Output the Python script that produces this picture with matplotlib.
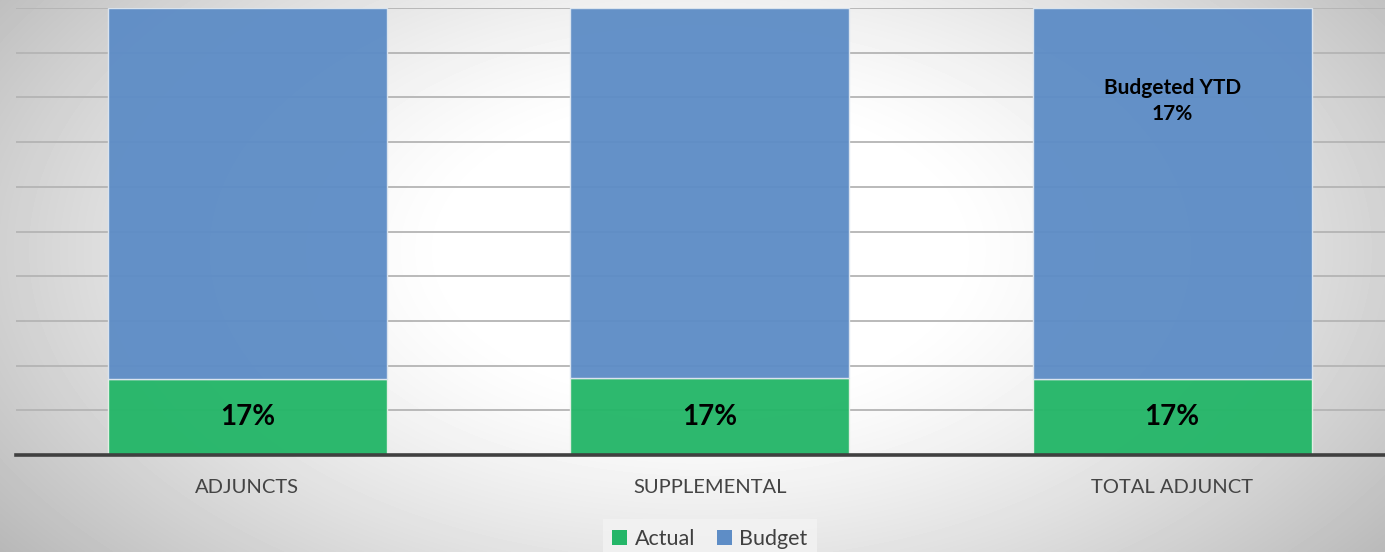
import numpy as np
import matplotlib.pyplot as plt
from matplotlib.patches import Patch

# chart data
categories = ['ADJUNCTS', 'SUPPLEMENTAL', 'TOTAL ADJUNCT']
actual = [0.17, 0.172, 0.17]
budget = [1 - a for a in actual]
actual_labels = ['17%', '17%', '17%']
budget_note = 'Budgeted YTD\n17%'

green = '#24b668'
blue = '#5e8dc6'

plt.rcParams['font.family'] = ['Lato', 'DejaVu Sans']

W, H = 1385, 552
fig = plt.figure(figsize=(W / 100, H / 100), dpi=100)

# radial gradient background (white middle, grey edges)
bg = fig.add_axes([0, 0, 1, 1], zorder=-10)
yy, xx = np.mgrid[0:H, 0:W]
d = np.sqrt(((xx - 700) / 700.0) ** 2 + ((yy - 250) / 400.0) ** 2)
shade = np.clip(1.0 - 0.32 * np.clip(d - 0.35, 0, None) ** 1.3, 0, 1)
bg.imshow(shade, cmap='gray', vmin=0, vmax=1, aspect='auto', extent=[0, W, H, 0])
bg.axis('off')

left_px, right_px, top_px, bottom_px = 16, 1385, 8, 455
ax = fig.add_axes([left_px / W, 1 - bottom_px / H, (right_px - left_px) / W, (bottom_px - top_px) / H])
ax.patch.set_alpha(0)

x = np.arange(len(categories))
step = 462.5
ax.set_xlim(-0.5, -0.5 + (right_px - left_px) / step)
ax.set_ylim(0, 1)

ax.set_yticks(np.arange(0, 1.01, 0.1))
ax.yaxis.grid(True, color='#b4b4b4', linewidth=1.3)
ax.set_axisbelow(True)
ax.tick_params(axis='y', length=0, labelleft=False)
ax.tick_params(axis='x', length=0, pad=17, labelsize=14.5, labelcolor='#444444')

b1 = ax.bar(x, actual, width=0.603, color=green, alpha=0.96, edgecolor='#e8f0e8', linewidth=1)
b2 = ax.bar(x, budget, bottom=actual, width=0.603, color=blue, alpha=0.96, edgecolor='#dde6f0', linewidth=1)

for xi, a, lab in zip(x, actual, actual_labels):
    ax.text(xi, a / 2, lab, ha='center', va='center', fontsize=20, fontweight='bold', color='black')

ax.text(x[2], 0.792, budget_note, ha='center', va='center', fontsize=15, fontweight='bold',
        color='black', linespacing=1.4)

ax.set_xticks(x)
ax.set_xticklabels(categories)

for s in ['top', 'right', 'left']:
    ax.spines[s].set_visible(False)
ax.spines['bottom'].set_color('#404040')
ax.spines['bottom'].set_linewidth(2.6)

handles = [Patch(facecolor=green, label='Actual'), Patch(facecolor=blue, label='Budget')]
leg = fig.legend(handles=handles, loc='center', bbox_to_anchor=(710 / W, 1 - 539 / H), ncol=2,
                 frameon=True, fontsize=15.5, handlelength=0.7, handleheight=0.7,
                 handletextpad=0.35, columnspacing=1.0, borderpad=0.45)
leg.get_frame().set_facecolor('#f3f3f3')
leg.get_frame().set_edgecolor('none')
leg.get_frame().set_boxstyle('square', pad=0)
for t in leg.get_texts():
    t.set_color('#404040')

fig.savefig('out.png', dpi=100)
